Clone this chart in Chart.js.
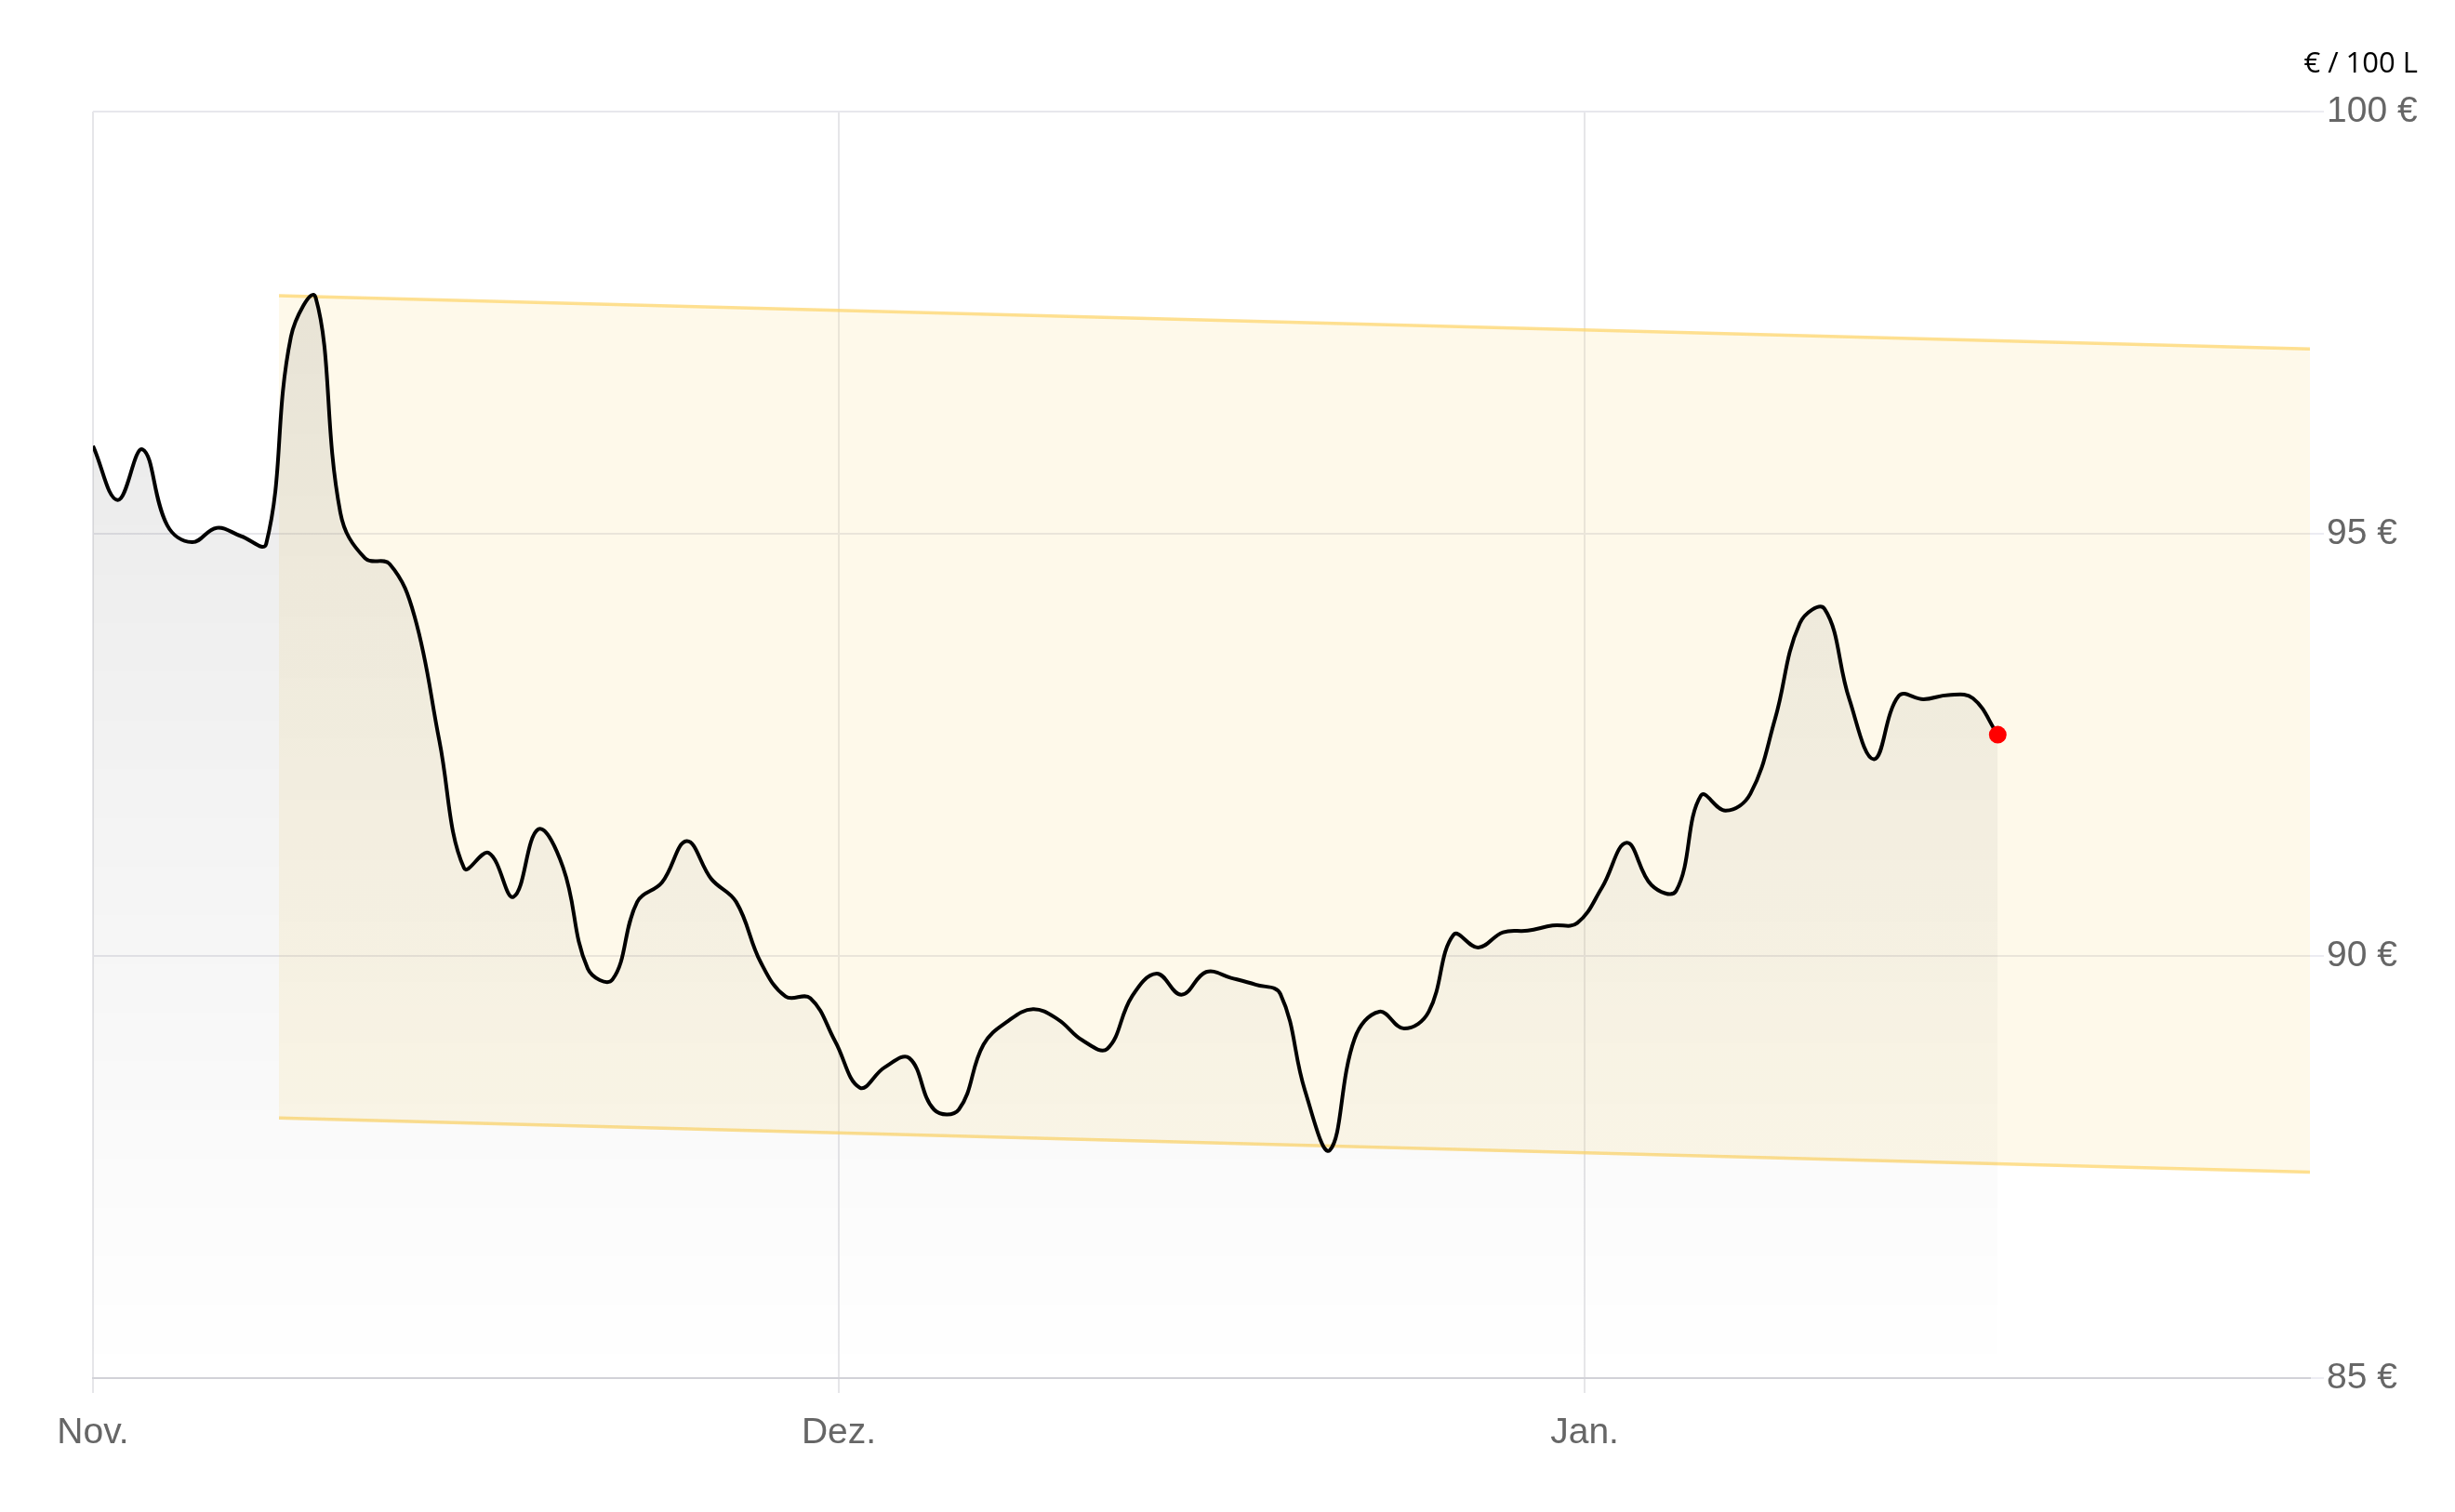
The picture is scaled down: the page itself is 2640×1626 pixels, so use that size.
<!DOCTYPE html>
<html>
<head>
<meta charset="utf-8">
<script src="https://cdn.jsdelivr.net/npm/chart.js@4"></script>
<style>
  html, body { margin: 0; padding: 0; background: #fff; }
  #wrap { width: 2640px; height: 1626px; position: relative; }
</style>
</head>
<body>
<div id="wrap"><canvas id="chart"></canvas></div>
<script>
// heating oil price, € / 100 L, one value per day (index 0 = Nov.)
const prices = [
  96.04, 95.40, 96.00, 95.10, 94.90, 95.07, 94.97, 94.88, 97.33, 97.80,
  95.25, 94.71, 94.64, 94.02, 92.55, 91.04, 91.22, 90.70, 91.50, 91.05,
  89.85, 89.72, 90.64, 90.87, 91.36, 90.91, 90.64, 89.92, 89.52, 89.50,
  88.99, 88.44, 88.68, 88.79, 88.18, 88.18, 88.95, 89.23, 89.37, 89.25,
  89.00, 88.90, 89.52, 89.79, 89.54, 89.81, 89.74, 89.66, 89.55, 88.40,
  87.70, 89.02, 89.34, 89.14, 89.34, 90.25, 90.10, 90.28, 90.30, 90.36,
  90.39, 90.81, 91.34, 90.84, 90.77, 91.90, 91.72, 91.92, 92.81, 93.94,
  94.11, 93.04, 92.33, 93.08, 93.04, 93.09, 93.05, 92.62
]

// trend channel (start / end)
const bandX = [7.52, 89.62]
const bandUpper = [97.82, 97.19]
const bandLower = [88.08, 87.44]

// x axis
const xTickPos = [0, 30.15, 60.3]
const xTickLabels = ['Nov.', 'Dez.', 'Jan.']
const xMax = 89.62

// y axis
const yMin = 85
const yMax = 100
const yStep = 5
const unitLabel = '€ / 100 L'

const priceData = prices.map((p, i) => ({x: i, y: p}))
const upperData = bandX.map((x, i) => ({x: x, y: bandUpper[i]}))
const lowerData = bandX.map((x, i) => ({x: x, y: bandLower[i]}))
const lastIdx = prices.length - 1

// draws the unit text above the price axis
const unitPlugin = {
  id: 'unitLabel',
  afterDraw(chart) {
    const ctx = chart.ctx
    ctx.save()
    ctx.font = '31px "Open Sans"'
    ctx.fillStyle = '#000'
    ctx.textAlign = 'right'
    ctx.textBaseline = 'alphabetic'
    ctx.fillText(unitLabel, chart.chartArea.right + 116, 78)
    ctx.restore()
  }
}

const greyFill = (context) => {
  const area = context.chart.chartArea
  if (!area) return 'rgba(0,0,0,0.06)'
  const g = context.chart.ctx.createLinearGradient(0, area.top, 0, area.bottom)
  g.addColorStop(0, 'rgba(0,0,0,0.10)')
  g.addColorStop(1, 'rgba(0,0,0,0)')
  return g
}

new Chart(document.getElementById('chart'), {
  type: 'line',
  data: {
    datasets: [
      {
        data: priceData,
        borderColor: '#000',
        borderWidth: 4,
        tension: 0.4,
        fill: 'start',
        backgroundColor: greyFill,
        pointRadius: ctx => ctx.dataIndex === lastIdx ? 9.5 : 0,
        pointBackgroundColor: '#ff0000',
        pointBorderWidth: 0,
        pointHoverRadius: 0
      },
      {
        data: upperData,
        borderColor: 'rgba(253, 214, 110, 0.75)',
        borderWidth: 3.5,
        pointRadius: 0,
        fill: false
      },
      {
        data: lowerData,
        borderColor: 'rgba(253, 214, 110, 0.75)',
        borderWidth: 3.5,
        pointRadius: 0,
        fill: '-1',
        backgroundColor: 'rgba(250, 225, 150, 0.2)'
      }
    ]
  },
  options: {
    responsive: true,
    maintainAspectRatio: false,
    animation: false,
    events: [],
    layout: { padding: { left: 100, top: 120, right: 0, bottom: 0 } },
    plugins: {
      legend: { display: false },
      tooltip: { enabled: false },
      title: { display: false }
    },
    scales: {
      x: {
        type: 'linear',
        min: 0,
        max: xMax,
        afterBuildTicks: axis => { axis.ticks = xTickPos.map(v => ({value: v})) },
        afterFit: axis => { axis.height = 144 },
        ticks: {
          callback: (value, index) => xTickLabels[index],
          font: { family: '"Liberation Sans", Arial, sans-serif', size: 39 },
          color: '#666',
          padding: 20,
          maxRotation: 0,
          autoSkip: false
        },
        grid: {
          color: '#e6e6e9',
          lineWidth: 2,
          tickLength: 16,
          drawTicks: true
        },
        border: { color: '#d2d2d8', width: 2 }
      },
      y: {
        position: 'right',
        min: yMin,
        max: yMax,
        afterFit: axis => { axis.width = 156 },
        ticks: {
          stepSize: yStep,
          callback: v => v + ' €',
          font: { family: '"Liberation Sans", Arial, sans-serif', size: 39 },
          color: '#666',
          padding: 3
        },
        grid: {
          color: '#e7e7ec',
          lineWidth: 2,
          tickLength: 15,
          tickColor: '#ececf2'
        },
        border: { display: false }
      }
    }
  },
  plugins: [unitPlugin]
})
</script>
</body>
</html>
